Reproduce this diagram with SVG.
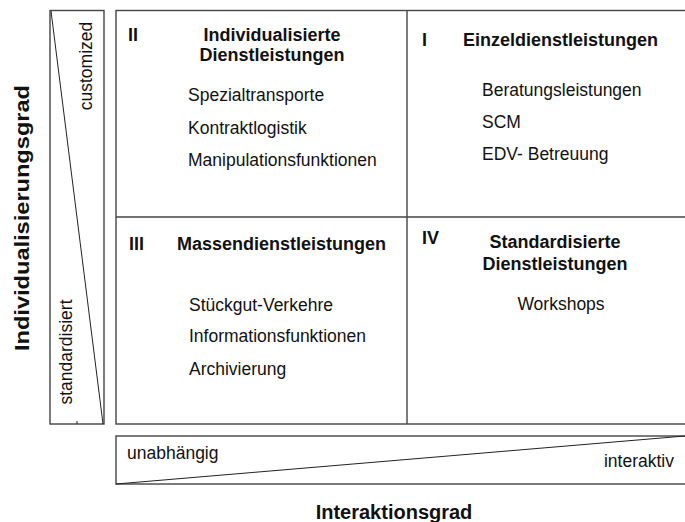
<svg xmlns="http://www.w3.org/2000/svg" width="685" height="522" viewBox="0 0 685 522">
<style>
.box{fill:none;stroke:#444;stroke-width:1.4}
.thin{fill:none;stroke:#222;stroke-width:1}
text{font-family:"Liberation Sans",Arial,sans-serif;fill:#111}
.n{font-size:17.5px}
.b{font-size:18px;font-weight:bold}
.ax{font-size:20px;font-weight:bold}
.m{text-anchor:middle}
</style>
<rect width="685" height="522" fill="#fff"/>
<g id="axis-y">
<rect class="box" x="50" y="10.5" width="54" height="413.5"/>
<line class="thin" x1="51" y1="11" x2="103" y2="424"/>
<line class="thin" x1="77" y1="421" x2="77" y2="424"/>
<text class="n m" transform="translate(92,66) rotate(-90)">customized</text>
<text class="n m" transform="translate(72,352) rotate(-90)">standardisiert</text>
<text class="ax m" style="font-size:21px" textLength="266" lengthAdjust="spacingAndGlyphs" transform="translate(29,218) rotate(-90)">Individualisierungsgrad</text>
</g>
<g id="matrix">
<rect class="box" x="116" y="10.5" width="575" height="413.5"/>
<line class="box" x1="407" y1="10.5" x2="407" y2="424"/>
<line class="box" x1="116" y1="217" x2="685" y2="217"/>
</g>
<g id="q2">
<text class="b" x="128" y="40.5">II</text>
<text class="b m" x="272" y="40.5">Individualisierte</text>
<text class="b m" x="272" y="61">Dienstleistungen</text>
<text class="n" x="188" y="101">Spezialtransporte</text>
<text class="n" x="188" y="133.5">Kontraktlogistik</text>
<text class="n" x="188" y="166">Manipulationsfunktionen</text>
</g>
<g id="q1">
<text class="b" x="422" y="46">I</text>
<text class="b" x="463" y="46">Einzeldienstleistungen</text>
<text class="n" x="482" y="96">Beratungsleistungen</text>
<text class="n" x="482" y="128">SCM</text>
<text class="n" x="482" y="159.5">EDV- Betreuung</text>
</g>
<g id="q3">
<text class="b" x="129" y="249.5">III</text>
<text class="b" x="177" y="249.5">Massendienstleistungen</text>
<text class="n" x="189" y="311">Stückgut-Verkehre</text>
<text class="n" x="189" y="342">Informationsfunktionen</text>
<text class="n" x="189" y="374.5">Archivierung</text>
</g>
<g id="q4">
<text class="b" x="422" y="243.5">IV</text>
<text class="b m" x="555" y="248">Standardisierte</text>
<text class="b m" x="555" y="269.5">Dienstleistungen</text>
<text class="n m" x="561" y="310">Workshops</text>
</g>
<g id="axis-x">
<rect class="box" x="116" y="436" width="577" height="48"/>
<line class="thin" x1="116" y1="484" x2="685" y2="436"/>
<text class="n" x="127" y="459">unabhängig</text>
<text class="n" x="674" y="467" text-anchor="end">interaktiv</text>
<text class="ax m" x="394" y="519">Interaktionsgrad</text>
</g>
</svg>
